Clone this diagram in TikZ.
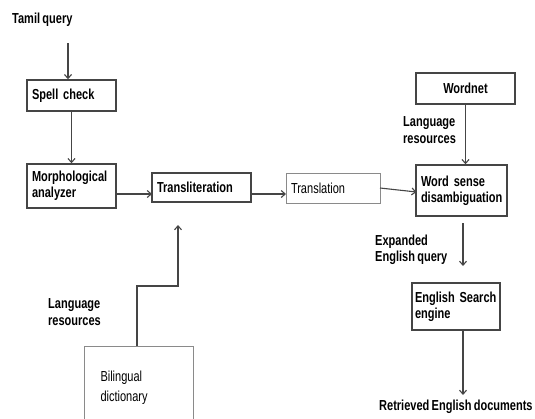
\documentclass[tikz,border=0pt]{standalone}
\usepackage{fontspec}
\setmainfont{Liberation Sans}[FakeStretch=0.76,WordSpace=0.75]
\usetikzlibrary{arrows.meta,calc}
\definecolor{linec}{HTML}{454545}
\definecolor{lightc}{HTML}{8A8A8A}
\tikzset{
  box/.style={draw=linec, line width=1.4pt, rectangle, inner xsep=5pt, inner ysep=0pt, align=left, font=\fontsize{14.5}{16}\selectfont\bfseries},
  lbox/.style={box, draw=lightc, line width=0.8pt, font=\fontsize{14.5}{16}\selectfont},
  lab/.style={align=left, inner sep=0pt, font=\fontsize{14.5}{16.5}\selectfont\bfseries},
  arr/.style={draw=linec, line width=1.1pt, -{Straight Barb[length=4pt,width=7pt]}},
}
\begin{document}
\begin{tikzpicture}[x=1pt,y=-1pt]
\useasboundingbox (0,0) rectangle (535,418);
% boxes
\node[box, minimum width=89pt, minimum height=31pt, text width=79pt] (spell) at (71.5,95.5) {Spell check};
\node[box, minimum width=89pt, minimum height=44pt, text width=79pt] (morph) at (71.5,186) {Morphological\\analyzer};
\node[box, minimum width=99pt, minimum height=29pt, text width=89pt] (translit) at (201.5,187.5) {Transliteration};
\node[lbox, minimum width=94pt, minimum height=30pt, text width=84pt] (transl) at (333,188) {Translation};
\node[box, minimum width=91pt, minimum height=51pt, text width=81pt] (wsd) at (461.5,190.5) {Word sense\\disambiguation};
\node[box, minimum width=99pt, minimum height=31pt, align=center] (wordnet) at (465.5,88.5) {Wordnet};
\node[box, minimum width=88pt, minimum height=47pt, text width=82pt, inner xsep=3pt] (ese) at (456,306.5) {English~Search\\engine};
\node[lbox, minimum width=109pt, minimum height=84pt, text width=76pt, inner xsep=0pt, font=\fontsize{14.5}{20}\selectfont] (bil) at (138.5,388) {Bilingual\\dictionary};
% labels
\node[lab, anchor=west] (tamil) at (12,20) {Tamil query};
\node[lab, anchor=west] (lr1) at (403,130) {Language\\resources};
\node[lab, anchor=west] (lr2) at (48,312) {Language\\resources};
\node[lab, anchor=west] (exp) at (375,250) {Expanded\\English query};
\node[lab, anchor=west] (ret) at (379,407) {Retrieved English documents};
% coordinates
\coordinate (tq) at (68,43);
\coordinate (m1) at (116,194);
\coordinate (t1) at (152,194);
\coordinate (t2) at (251,194);
\coordinate (t3) at (286,194);
\coordinate (tr1) at (380,188);
\coordinate (w1) at (416.5,192);
\coordinate (b1) at (137,346);
\coordinate (bend1) at (137,286);
\coordinate (bend2) at (178,286);
\coordinate (btip) at (178,225);
\coordinate (e1) at (463,223);
\coordinate (e2) at (463,266);
\coordinate (r1) at (463,330);
\coordinate (r2) at (463,395);
% connectors
\draw[arr] (tq) -- (tq |- spell.north);
\draw[arr] (spell.south) -- (morph.north);
\draw[arr] (m1) -- (t1);
\draw[arr] (t2) -- (t3);
\draw[arr] (tr1) -- (w1);
\draw[arr] (wordnet.south) -- (wsd.north -| wordnet.south);
\draw[arr] (b1) -- (bend1) -- (bend2) -- (btip);
\draw[arr] (e1) -- (e2);
\draw[arr] (r1) -- (r2);
\end{tikzpicture}
\end{document}
